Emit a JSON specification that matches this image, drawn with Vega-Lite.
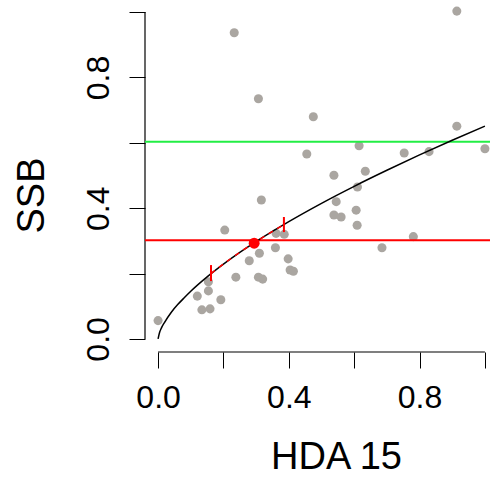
{
 "$schema": "https://vega.github.io/schema/vega-lite/v6.json",
 "width": 353, "height": 352,
 "autosize": {"type": "none"},
 "padding": {"left": 145, "top": 0, "right": 0, "bottom": 127},
 "background": "white",
 "config": {"view": {"stroke": null}, "font": "Liberation Sans"},
 "datasets": {
  "pts": [
   {"x": 0.233, "y": 0.937}, {"x": 0.307, "y": 0.735}, {"x": 0.475, "y": 0.680}, {"x": 0.455, "y": 0.566},
   {"x": 0.914, "y": 1.003}, {"x": 0.914, "y": 0.651}, {"x": 0.615, "y": 0.591}, {"x": 0.753, "y": 0.569},
   {"x": 0.829, "y": 0.573}, {"x": 1.0, "y": 0.582}, {"x": 0.538, "y": 0.501}, {"x": 0.634, "y": 0.513},
   {"x": 0.610, "y": 0.465}, {"x": 0.545, "y": 0.420}, {"x": 0.538, "y": 0.379}, {"x": 0.560, "y": 0.373},
   {"x": 0.606, "y": 0.394}, {"x": 0.609, "y": 0.348}, {"x": 0.685, "y": 0.279}, {"x": 0.781, "y": 0.313},
   {"x": 0.316, "y": 0.425}, {"x": 0.204, "y": 0.333}, {"x": 0.361, "y": 0.323}, {"x": 0.386, "y": 0.320},
   {"x": 0.310, "y": 0.262}, {"x": 0.359, "y": 0.279}, {"x": 0.279, "y": 0.239}, {"x": 0.398, "y": 0.245},
   {"x": 0.404, "y": 0.211}, {"x": 0.414, "y": 0.207}, {"x": 0.238, "y": 0.189}, {"x": 0.307, "y": 0.189},
   {"x": 0.320, "y": 0.183}, {"x": 0.154, "y": 0.175}, {"x": 0.120, "y": 0.131}, {"x": 0.154, "y": 0.147},
   {"x": 0.192, "y": 0.120}, {"x": 0.134, "y": 0.089}, {"x": 0.159, "y": 0.092}, {"x": 0.0, "y": 0.056}
  ],
  "curve": [
   {"x": 0, "y": 0}, {"x": 0.005, "y": 0.021}, {"x": 0.01, "y": 0.033}, {"x": 0.02, "y": 0.051},
   {"x": 0.04, "y": 0.081}, {"x": 0.06, "y": 0.105}, {"x": 0.08, "y": 0.126}, {"x": 0.1, "y": 0.146},
   {"x": 0.15, "y": 0.190}, {"x": 0.2, "y": 0.229}, {"x": 0.25, "y": 0.265}, {"x": 0.3, "y": 0.298},
   {"x": 0.35, "y": 0.329}, {"x": 0.4, "y": 0.359}, {"x": 0.5, "y": 0.415}, {"x": 0.6, "y": 0.467},
   {"x": 0.7, "y": 0.516}, {"x": 0.8, "y": 0.563}, {"x": 0.9, "y": 0.608}, {"x": 1.0, "y": 0.651}
  ],
  "ci": [
   {"x": 0.162, "y": 0.200}, {"x": 0.2, "y": 0.229}, {"x": 0.25, "y": 0.265}, {"x": 0.3, "y": 0.298},
   {"x": 0.35, "y": 0.329}, {"x": 0.385, "y": 0.350}
  ],
  "ticks": [
   {"x": 0.162, "y": 0.177, "y2": 0.226}, {"x": 0.385, "y": 0.327, "y2": 0.373}
  ],
  "hl": [{"y": 0.302, "line": "red"}, {"y": 0.603, "line": "green"}],
  "ref": [{"x": 0.294, "y": 0.293}],
  "xaxisline": [{"x": 0, "x2": 1, "y": -0.04}],
  "yaxisline": [{"x": -0.04, "y": 0, "y2": 1}]
 },
 "layer": [
  {
   "data": {"name": "pts"},
   "mark": {"type": "circle", "size": 82, "color": "#aaa6a1", "opacity": 1},
   "encoding": {
    "x": {"field": "x", "type": "quantitative", "scale": {"domain": [-0.04, 1.04], "nice": false, "zero": false},
     "axis": {"values": [0, 0.2, 0.4, 0.6, 0.8, 1],
      "labelExpr": "datum.value == 0 || datum.value == 0.4 || datum.value == 0.8 ? format(datum.value, '.1f') : ''",
      "domain": false, "grid": false, "ticks": true, "tickSize": 16, "tickColor": "black", "tickWidth": 1,
      "labelFont": "Liberation Sans", "labelFontSize": 32, "labelColor": "black", "labelBaseline": "alphabetic",
      "labelPadding": 39, "labelOverlap": false, "labelFlush": false, "labelBound": false,
      "title": "HDA 15", "titleFont": "Liberation Sans", "titleFontSize": 38, "titleFontWeight": "normal",
      "titleColor": "black", "titleX": 191, "titleY": 116, "titleBaseline": "alphabetic", "titleAlign": "center"}},
    "y": {"field": "y", "type": "quantitative", "scale": {"domain": [-0.04, 1.037], "nice": false, "zero": false},
     "axis": {"values": [0, 0.2, 0.4, 0.6, 0.8, 1],
      "labelExpr": "datum.value == 0 || datum.value == 0.4 || datum.value == 0.8 ? format(datum.value, '.1f') : ''",
      "domain": false, "grid": false, "ticks": true, "tickSize": 16, "tickColor": "black", "tickWidth": 1,
      "labelFont": "Liberation Sans", "labelFontSize": 32, "labelColor": "black", "labelAngle": -90,
      "labelAlign": "center", "labelBaseline": "alphabetic",
      "labelPadding": 21, "labelOverlap": false, "labelFlush": false, "labelBound": false,
      "title": "SSB", "titleFont": "Liberation Sans", "titleFontSize": 38, "titleFontWeight": "normal",
      "titleColor": "black", "titleX": -102, "titleY": 195, "titleAngle": -90, "titleBaseline": "alphabetic", "titleAlign": "center"}}
   }
  },
  {
   "data": {"name": "xaxisline"},
   "mark": {"type": "rule", "color": "black", "strokeWidth": 1.2},
   "encoding": {
    "x": {"field": "x", "type": "quantitative"},
    "x2": {"field": "x2"},
    "y": {"field": "y", "type": "quantitative"}
   }
  },
  {
   "data": {"name": "yaxisline"},
   "mark": {"type": "rule", "color": "black", "strokeWidth": 1.2},
   "encoding": {
    "x": {"field": "x", "type": "quantitative"},
    "y": {"field": "y", "type": "quantitative"},
    "y2": {"field": "y2"}
   }
  },
  {
   "data": {"name": "hl"},
   "mark": {"type": "rule", "strokeWidth": 2},
   "encoding": {
    "y": {"field": "y", "type": "quantitative"},
    "color": {"field": "line", "type": "nominal", "scale": {"domain": ["red", "green"], "range": ["#ff0000", "#22ee44"]}, "legend": null}
   }
  },
  {
   "data": {"name": "curve"},
   "mark": {"type": "line", "color": "black", "strokeWidth": 1.5, "interpolate": "monotone"},
   "encoding": {
    "x": {"field": "x", "type": "quantitative"},
    "y": {"field": "y", "type": "quantitative"}
   }
  },
  {
   "data": {"name": "ci"},
   "mark": {"type": "line", "color": "#ff0000", "strokeWidth": 1.5, "strokeDash": [5, 5], "interpolate": "monotone"},
   "encoding": {
    "x": {"field": "x", "type": "quantitative"},
    "y": {"field": "y", "type": "quantitative"}
   }
  },
  {
   "data": {"name": "ticks"},
   "mark": {"type": "rule", "color": "#ff0000", "strokeWidth": 2},
   "encoding": {
    "x": {"field": "x", "type": "quantitative"},
    "y": {"field": "y", "type": "quantitative"},
    "y2": {"field": "y2"}
   }
  },
  {
   "data": {"name": "ref"},
   "mark": {"type": "circle", "size": 120, "color": "#ff0000", "opacity": 1},
   "encoding": {
    "x": {"field": "x", "type": "quantitative"},
    "y": {"field": "y", "type": "quantitative"}
   }
  }
 ]
}
